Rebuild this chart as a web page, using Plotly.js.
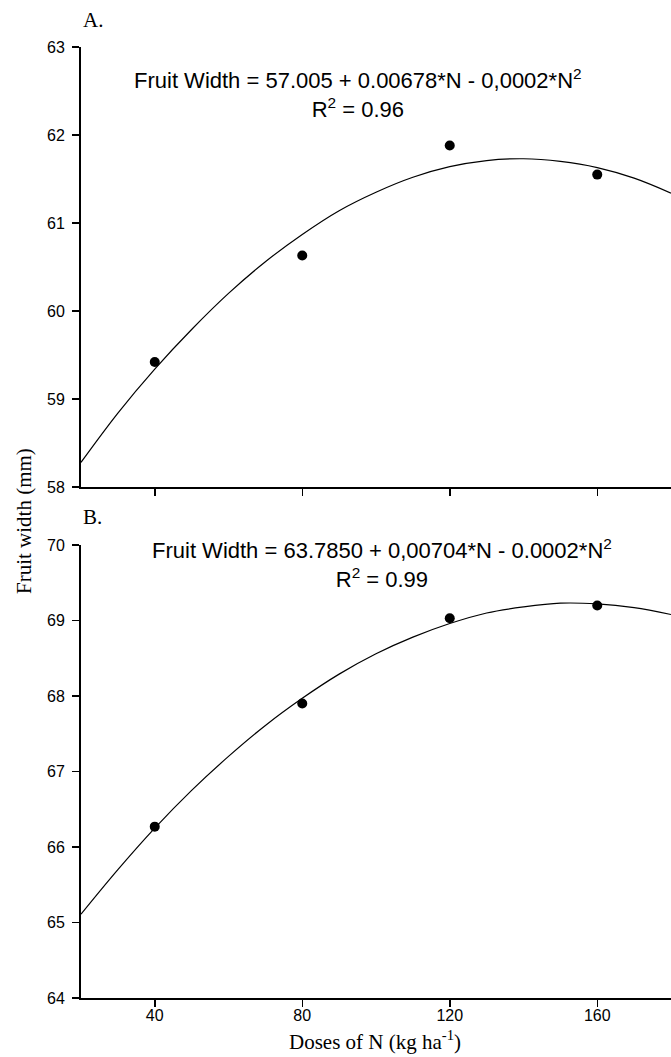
<!DOCTYPE html>
<html>
<head>
<meta charset="utf-8">
<script src="https://cdn.plot.ly/plotly-3.0.1.min.js"></script>
<style>html,body{margin:0;padding:0;background:#fff;}#chart{width:671px;height:1057px;}</style>
</head>
<body>
<div id="chart"></div>
<script>
// Observed data (Doses of N, kg/ha)
const doses = [40, 80, 120, 160];
const widthA = [59.42, 60.63, 61.88, 61.55];
const widthB = [66.27, 67.90, 69.03, 69.20];

// Fitted curves
const curveX = [20, 30, 40, 50, 60, 70, 80, 90, 100, 110, 120, 130, 140, 150, 160, 170, 180];
const curveA = [58.28, 58.84, 59.34, 59.79, 60.20, 60.56, 60.87, 61.14, 61.35, 61.52, 61.64, 61.71, 61.73, 61.70, 61.63, 61.51, 61.34];
const curveB = [65.11, 65.70, 66.25, 66.75, 67.20, 67.61, 67.97, 68.29, 68.56, 68.78, 68.96, 69.10, 69.18, 69.23, 69.22, 69.17, 69.08];

const xTicks = [40, 80, 120, 160];
const yTicksA = [58, 59, 60, 61, 62, 63];
const yTicksB = [64, 65, 66, 67, 68, 69, 70];

const eqA = 'Fruit Width = 57.005 + 0.00678*N - 0,0002*N<sup>2</sup><br>R<sup>2</sup> = 0.96';
const eqB = 'Fruit Width = 63.7850 + 0,00704*N - 0.0002*N<sup>2</sup><br>R<sup>2</sup> = 0.99';

const sans = 'Liberation Sans, Arial, sans-serif';
const serif = 'Liberation Serif, Times New Roman, serif';

const traces = [
  {x: curveX, y: curveA, xaxis: 'x', yaxis: 'y', mode: 'lines', line: {color: '#000', width: 1.2, shape: 'spline'}, hoverinfo: 'skip'},
  {x: doses, y: widthA, xaxis: 'x', yaxis: 'y', mode: 'markers', marker: {color: '#000', size: 10}},
  {x: curveX, y: curveB, xaxis: 'x2', yaxis: 'y2', mode: 'lines', line: {color: '#000', width: 1.2, shape: 'spline'}, hoverinfo: 'skip'},
  {x: doses, y: widthB, xaxis: 'x2', yaxis: 'y2', mode: 'markers', marker: {color: '#000', size: 10}}
];

const xCommon = {
  range: [20, 180], tickvals: xTicks, ticktext: xTicks.map(String),
  showline: true, linecolor: '#000', linewidth: 2, ticks: 'outside', ticklen: 7, tickwidth: 1.5, tickcolor: '#000',
  showgrid: false, zeroline: false, tickfont: {family: sans, size: 16, color: '#000'}
};
const yCommon = {
  showline: true, linecolor: '#000', linewidth: 2, ticks: 'outside', ticklen: 7, tickwidth: 1.5, tickcolor: '#000',
  showgrid: false, zeroline: false, tickfont: {family: sans, size: 16, color: '#000'}, ticklabelstandoff: 4
};

const layout = {
  width: 671, height: 1057,
  margin: {l: 81, r: 0, t: 47, b: 59},
  paper_bgcolor: '#fff', plot_bgcolor: '#fff',
  showlegend: false,
  xaxis: Object.assign({}, xCommon, {domain: [0, 1], anchor: 'y', showticklabels: false}),
  yaxis: Object.assign({}, yCommon, {domain: [0.5373, 1], range: [58, 63], tickvals: yTicksA, anchor: 'x'}),
  xaxis2: Object.assign({}, xCommon, {domain: [0, 1], anchor: 'y2', ticklabelstandoff: -5}),
  yaxis2: Object.assign({}, yCommon, {domain: [0, 0.4763], range: [64, 70], tickvals: yTicksB, anchor: 'x2'}),
  annotations: [
    {text: 'A.', xref: 'paper', yref: 'paper', x: 0, y: 1.0284, xanchor: 'left', yanchor: 'middle', showarrow: false, font: {family: serif, size: 21, color: '#000'}},
    {text: 'B.', xref: 'paper', yref: 'paper', x: 0, y: 0.5058, xanchor: 'left', yanchor: 'middle', showarrow: false, font: {family: serif, size: 21, color: '#000'}},
    {text: eqA, xref: 'paper', yref: 'paper', x: 0.4695, y: 0.9516, xanchor: 'center', yanchor: 'middle', align: 'center', showarrow: false, font: {family: sans, size: 22, color: '#000'}},
    {text: eqB, xref: 'paper', yref: 'paper', x: 0.5102, y: 0.4564, xanchor: 'center', yanchor: 'middle', align: 'center', showarrow: false, font: {family: sans, size: 22, color: '#000'}},
    {text: 'Fruit width (mm)', xref: 'paper', yref: 'paper', x: -0.0966, y: 0.5016, xanchor: 'center', yanchor: 'middle', textangle: -90, showarrow: false, font: {family: serif, size: 21, color: '#000'}},
    {text: 'Doses of N (kg ha<sup>-1</sup>)', xref: 'paper', yref: 'paper', x: 0.499, y: -0.0442, xanchor: 'center', yanchor: 'middle', showarrow: false, font: {family: serif, size: 21, color: '#000'}}
  ]
};

Plotly.newPlot('chart', traces, layout, {displayModeBar: false, staticPlot: true});
</script>
</body>
</html>
